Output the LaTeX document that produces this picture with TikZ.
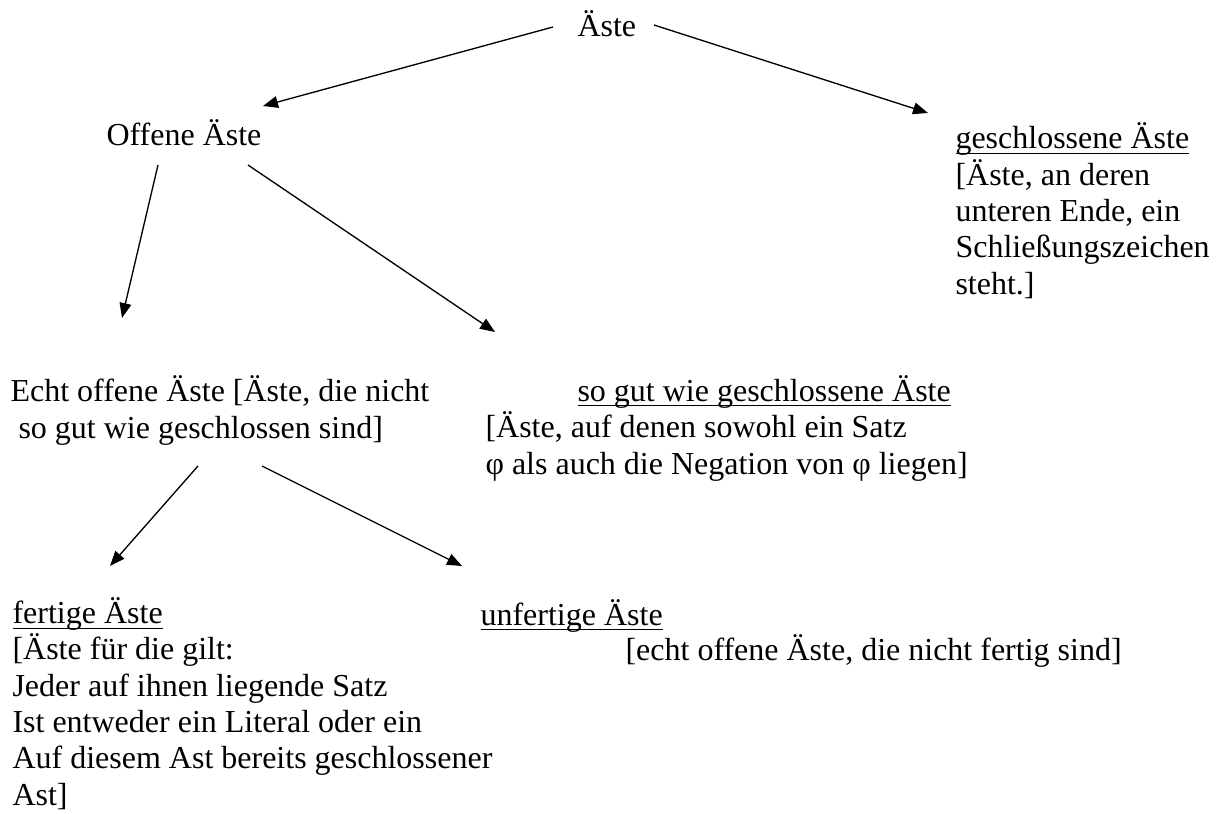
\documentclass[tikz,border=0pt]{standalone}
\usepackage{fontspec}
\setmainfont{Liberation Serif}
\usetikzlibrary{arrows.meta}

\newcommand{\ulin}[1]{\setbox0=\hbox{#1}\rlap{\rule[-2pt]{\wd0}{0.45pt}}\box0}

\begin{document}
\begin{tikzpicture}[x=0.375pt, y=-0.375pt,
    font=\fontsize{12}{13.6}\selectfont,
    txt/.style={anchor=base west, align=left, inner sep=0pt},
    arr/.style={-{Triangle[length=5.6pt,width=4.4pt]}, line width=0.5pt}]
  \useasboundingbox (0,0) rectangle (1219,814);

  % multi-line nodes sit on the baseline of their last line
  \node[txt] (root) at (577, 36) {Äste};
  \node[txt] (offen) at (106, 145) {Offene Äste};
  \node[txt] (geschl) at (955, 294) {\ulin{geschlossene Äste}\\{[}Äste, an deren\\unteren Ende, ein\\Schließungszeichen\\steht.]};
  \node[txt] (echt) at (10, 438) {Echt offene Äste [Äste, die nicht\\\hspace*{0.25em}so gut wie geschlossen sind]};
  \node[txt] (sgw) at (577, 401) {\ulin{so gut wie geschlossene Äste}};
  \node[txt] (sgw-text) at (485, 474) {{[}Äste, auf denen sowohl ein Satz\\φ als auch die Negation von φ liegen]};
  \node[txt] (fertig) at (12, 805) {\ulin{fertige Äste}\\{[}Äste für die gilt:\\Jeder auf ihnen liegende Satz\\Ist entweder ein Literal oder ein\\Auf diesem Ast bereits geschlossener\\Ast]};
  \node[txt] (unfertig) at (480, 625) {\ulin{unfertige Äste}};
  \node[txt] (unfertig-text) at (625, 660) {{[}echt offene Äste, die nicht fertig sind]};

  % arrow ends
  \coordinate (root-l) at (553, 27);
  \coordinate (root-r) at (654, 25);
  \coordinate (offen-in) at (263, 106);
  \coordinate (geschl-in) at (928, 113);
  \coordinate (offen-l) at (158, 165);
  \coordinate (offen-r) at (248, 165);
  \coordinate (echt-in) at (122, 318);
  \coordinate (sgw-in) at (495, 332);
  \coordinate (echt-l) at (198, 466);
  \coordinate (echt-r) at (262, 466);
  \coordinate (fertig-in) at (110, 566);
  \coordinate (unfertig-in) at (462, 566);

  \draw[arr] (root-l) -- (offen-in);
  \draw[arr] (root-r) -- (geschl-in);
  \draw[arr] (offen-l) -- (echt-in);
  \draw[arr] (offen-r) -- (sgw-in);
  \draw[arr] (echt-l) -- (fertig-in);
  \draw[arr] (echt-r) -- (unfertig-in);
\end{tikzpicture}
\end{document}
